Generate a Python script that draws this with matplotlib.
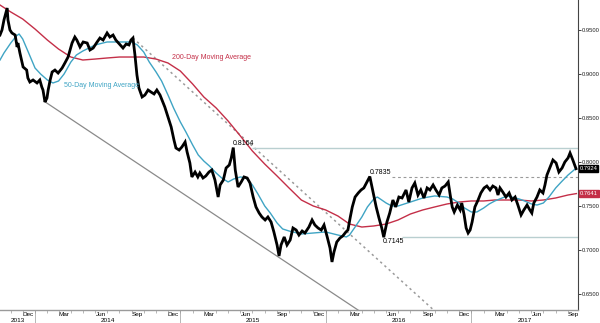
import pandas as pd
import matplotlib
matplotlib.use('Agg')
import matplotlib.pyplot as plt
import matplotlib.dates as mdates
import matplotlib.transforms as mtransforms

plt.rcParams['font.family'] = ['Liberation Sans', 'DejaVu Sans']

# AUD/USD daily closes
price_dates = [
    '2013-10-05', '2013-10-10', '2013-10-15', '2013-10-23', '2013-10-25', '2013-10-30',
    '2013-11-04', '2013-11-12', '2013-11-17', '2013-11-19', '2013-11-24', '2013-11-29',
    '2013-12-02', '2013-12-11', '2013-12-14', '2013-12-19', '2013-12-27', '2014-01-06',
    '2014-01-13', '2014-01-18', '2014-01-21', '2014-01-26', '2014-01-31', '2014-02-03',
    '2014-02-08', '2014-02-13', '2014-02-20', '2014-02-28', '2014-03-10', '2014-03-17',
    '2014-03-25', '2014-03-30', '2014-04-04', '2014-04-11', '2014-04-16', '2014-04-24',
    '2014-05-02', '2014-05-12', '2014-05-19', '2014-05-27', '2014-06-06', '2014-06-13',
    '2014-06-21', '2014-07-01', '2014-07-08', '2014-07-16', '2014-07-23', '2014-08-03',
    '2014-08-10', '2014-08-18', '2014-08-25', '2014-08-30', '2014-09-04', '2014-09-09',
    '2014-09-14', '2014-09-19', '2014-09-27', '2014-10-04', '2014-10-12', '2014-10-19',
    '2014-10-27', '2014-11-03', '2014-11-11', '2014-11-16', '2014-11-23', '2014-12-01',
    '2014-12-09', '2014-12-16', '2014-12-21', '2014-12-29', '2015-01-05', '2015-01-13',
    '2015-01-18', '2015-01-25', '2015-01-30', '2015-02-07', '2015-02-14', '2015-02-19',
    '2015-02-27', '2015-03-06', '2015-03-14', '2015-03-21', '2015-03-29', '2015-04-06',
    '2015-04-11', '2015-04-19', '2015-04-26', '2015-05-04', '2015-05-09', '2015-05-14',
    '2015-05-19', '2015-05-26', '2015-06-03', '2015-06-10', '2015-06-18', '2015-06-25',
    '2015-07-03', '2015-07-10', '2015-07-18', '2015-07-25', '2015-08-02', '2015-08-09',
    '2015-08-17', '2015-08-24', '2015-09-01', '2015-09-06', '2015-09-11', '2015-09-19',
    '2015-09-26', '2015-10-04', '2015-10-11', '2015-10-19', '2015-10-26', '2015-11-03',
    '2015-11-10', '2015-11-20', '2015-11-28', '2015-12-05', '2015-12-13', '2015-12-21',
    '2015-12-28', '2016-01-05', '2016-01-12', '2016-01-17', '2016-01-22', '2016-01-29',
    '2016-02-06', '2016-02-13', '2016-02-21', '2016-02-26', '2016-03-03', '2016-03-08',
    '2016-03-15', '2016-03-23', '2016-03-30', '2016-04-06', '2016-04-14', '2016-04-21',
    '2016-04-29', '2016-05-07', '2016-05-14', '2016-05-21', '2016-05-26', '2016-06-03',
    '2016-06-10', '2016-06-18', '2016-06-25', '2016-07-03', '2016-07-11', '2016-07-21',
    '2016-07-28', '2016-08-05', '2016-08-12', '2016-08-20', '2016-08-27', '2016-09-04',
    '2016-09-12', '2016-09-19', '2016-09-27', '2016-10-04', '2016-10-12', '2016-10-19',
    '2016-10-27', '2016-11-04', '2016-11-09', '2016-11-14', '2016-11-19', '2016-11-27',
    '2016-12-04', '2016-12-08', '2016-12-14', '2016-12-19', '2016-12-24', '2016-12-29',
    '2017-01-03', '2017-01-10', '2017-01-18', '2017-01-25', '2017-02-02', '2017-02-09',
    '2017-02-17', '2017-02-24', '2017-03-04', '2017-03-09', '2017-03-14', '2017-03-21',
    '2017-03-29', '2017-04-06', '2017-04-13', '2017-04-21', '2017-04-28', '2017-05-06',
    '2017-05-13', '2017-05-21', '2017-05-28', '2017-06-02', '2017-06-07', '2017-06-15',
    '2017-06-22', '2017-06-30', '2017-07-05', '2017-07-10', '2017-07-18', '2017-07-25',
    '2017-08-02', '2017-08-09', '2017-08-17', '2017-08-24', '2017-09-01', '2017-09-06',
    '2017-09-13', '2017-09-21',
]
price_vals = [
    0.9443, 0.9500, 0.9614, 0.9750, 0.9614, 0.9500,
    0.9466, 0.9443, 0.9307, 0.9352, 0.9239, 0.9136,
    0.9080, 0.9045, 0.8955, 0.8909, 0.8932, 0.8898,
    0.8932, 0.8852, 0.8818, 0.8682, 0.8727, 0.8818,
    0.8932, 0.9023, 0.9045, 0.9011, 0.9068, 0.9125,
    0.9193, 0.9273, 0.9352, 0.9420, 0.9386, 0.9307,
    0.9364, 0.9352, 0.9273, 0.9295, 0.9364, 0.9409,
    0.9386, 0.9466, 0.9420, 0.9443, 0.9386, 0.9330,
    0.9295, 0.9341, 0.9330, 0.9386, 0.9409, 0.9216,
    0.8989, 0.8841, 0.8739, 0.8761, 0.8818, 0.8796,
    0.8773, 0.8818, 0.8761, 0.8705, 0.8625, 0.8511,
    0.8398, 0.8250, 0.8159, 0.8136, 0.8171, 0.8227,
    0.8114, 0.7989, 0.7830, 0.7886, 0.7830, 0.7875,
    0.7818, 0.7841, 0.7886, 0.7909, 0.7795, 0.7602,
    0.7739, 0.7795, 0.7932, 0.7966, 0.8046, 0.8164,
    0.7909, 0.7716, 0.7773, 0.7830, 0.7818, 0.7761,
    0.7602, 0.7489, 0.7420, 0.7375, 0.7341, 0.7375,
    0.7318, 0.7205, 0.7057, 0.6932, 0.7057, 0.7148,
    0.7057, 0.7114, 0.7250, 0.7227, 0.7170, 0.7216,
    0.7193, 0.7261, 0.7341, 0.7284, 0.7250, 0.7227,
    0.7284, 0.7148, 0.7023, 0.6864, 0.6977, 0.7091,
    0.7136, 0.7159, 0.7205, 0.7227, 0.7375, 0.7489,
    0.7602, 0.7648, 0.7682, 0.7705, 0.7773, 0.7835,
    0.7659, 0.7489, 0.7364, 0.7250, 0.7145, 0.7318,
    0.7420, 0.7568, 0.7489, 0.7602, 0.7591, 0.7682,
    0.7545, 0.7705, 0.7761, 0.7625, 0.7682, 0.7591,
    0.7705, 0.7682, 0.7739, 0.7682, 0.7625, 0.7705,
    0.7727, 0.7773, 0.7625, 0.7489, 0.7432, 0.7511,
    0.7455, 0.7534, 0.7398, 0.7250, 0.7193, 0.7227,
    0.7318, 0.7489, 0.7568, 0.7648, 0.7705, 0.7727,
    0.7682, 0.7727, 0.7705, 0.7625, 0.7705, 0.7659,
    0.7602, 0.7648, 0.7568, 0.7602, 0.7511, 0.7398,
    0.7455, 0.7511, 0.7455, 0.7420, 0.7534, 0.7602,
    0.7682, 0.7648, 0.7739, 0.7852, 0.7943, 0.8023,
    0.7989, 0.7886, 0.7932, 0.8000, 0.8046, 0.8102,
    0.8023, 0.7924,
]

# 50-day moving average
ma50_dates = [
    '2013-10-05', '2013-10-15', '2013-11-01', '2013-11-15', '2013-11-22', '2013-12-01',
    '2013-12-15', '2014-01-01', '2014-01-15', '2014-02-01', '2014-02-15', '2014-03-01',
    '2014-03-15', '2014-04-01', '2014-04-15', '2014-05-01', '2014-06-01', '2014-07-01',
    '2014-08-01', '2014-09-01', '2014-09-15', '2014-10-01', '2014-10-15', '2014-11-01',
    '2014-11-15', '2014-12-01', '2014-12-15', '2015-01-01', '2015-01-15', '2015-02-01',
    '2015-02-15', '2015-03-01', '2015-03-15', '2015-04-01', '2015-04-15', '2015-05-01',
    '2015-05-15', '2015-06-01', '2015-06-15', '2015-07-01', '2015-07-15', '2015-08-01',
    '2015-08-15', '2015-09-01', '2015-09-15', '2015-10-01', '2015-11-01', '2015-12-01',
    '2016-01-01', '2016-02-01', '2016-02-22', '2016-03-01', '2016-03-15', '2016-04-01',
    '2016-04-15', '2016-05-01', '2016-05-10', '2016-06-01', '2016-06-15', '2016-07-01',
    '2016-08-01', '2016-09-01', '2016-10-01', '2016-11-01', '2016-11-15', '2016-12-01',
    '2016-12-15', '2017-01-01', '2017-01-15', '2017-02-01', '2017-02-15', '2017-03-01',
    '2017-04-01', '2017-05-01', '2017-05-15', '2017-06-01', '2017-06-15', '2017-07-01',
    '2017-07-15', '2017-08-01', '2017-08-15', '2017-09-01', '2017-09-22',
]
ma50_vals = [
    0.9159, 0.9239, 0.9352, 0.9432, 0.9455, 0.9398,
    0.9250, 0.9068, 0.9000, 0.8932, 0.8898, 0.8920,
    0.9000, 0.9136, 0.9216, 0.9261, 0.9330, 0.9364,
    0.9364, 0.9364, 0.9330, 0.9250, 0.9136, 0.9023,
    0.8920, 0.8761, 0.8614, 0.8455, 0.8341, 0.8193,
    0.8080, 0.8011, 0.7955, 0.7875, 0.7818, 0.7773,
    0.7807, 0.7830, 0.7818, 0.7739, 0.7636, 0.7500,
    0.7420, 0.7307, 0.7239, 0.7216, 0.7182, 0.7193,
    0.7205, 0.7170, 0.7148, 0.7170, 0.7261, 0.7375,
    0.7489, 0.7580, 0.7602, 0.7534, 0.7500, 0.7500,
    0.7545, 0.7591, 0.7614, 0.7602, 0.7580, 0.7534,
    0.7477, 0.7432, 0.7432, 0.7477, 0.7523, 0.7557,
    0.7614, 0.7580, 0.7557, 0.7523, 0.7511, 0.7534,
    0.7602, 0.7705, 0.7773, 0.7852, 0.7932,
]

# 200-day moving average
ma200_dates = [
    '2013-10-05', '2013-11-01', '2013-12-01', '2014-01-01', '2014-02-01', '2014-03-01',
    '2014-04-01', '2014-05-01', '2014-06-01', '2014-07-01', '2014-08-01', '2014-09-01',
    '2014-10-01', '2014-11-01', '2014-12-01', '2015-01-01', '2015-02-01', '2015-03-01',
    '2015-04-01', '2015-05-01', '2015-06-01', '2015-07-01', '2015-08-01', '2015-09-01',
    '2015-10-01', '2015-11-01', '2015-12-01', '2016-01-01', '2016-02-01', '2016-03-01',
    '2016-04-01', '2016-05-01', '2016-06-01', '2016-07-01', '2016-08-01', '2016-09-01',
    '2016-10-01', '2016-11-01', '2016-12-01', '2017-01-01', '2017-02-01', '2017-03-01',
    '2017-04-01', '2017-05-01', '2017-06-01', '2017-07-01', '2017-08-01', '2017-09-01',
    '2017-09-22',
]
ma200_vals = [
    0.9784, 0.9705, 0.9625, 0.9511, 0.9386, 0.9284,
    0.9193, 0.9159, 0.9170, 0.9182, 0.9193, 0.9193,
    0.9193, 0.9170, 0.9125, 0.9034, 0.8886, 0.8739,
    0.8614, 0.8466, 0.8295, 0.8125, 0.7977, 0.7841,
    0.7705, 0.7568, 0.7500, 0.7455, 0.7386, 0.7295,
    0.7261, 0.7273, 0.7295, 0.7341, 0.7409, 0.7455,
    0.7489, 0.7523, 0.7545, 0.7557, 0.7557, 0.7568,
    0.7568, 0.7568, 0.7557, 0.7568, 0.7591, 0.7625,
    0.7641,
]

# trend lines and levels
support_dates = ['2014-01-24', '2016-03-25']
support_vals = [0.8690, 0.6310]
resist_dates = ['2014-09-04', '2016-10-01']
resist_vals = [0.9409, 0.6307]
level_high, level_high_start = 0.8164, '2015-06-29'
level_mid, level_mid_start = 0.7835, '2016-06-16'
level_low, level_low_start = 0.7145, '2016-07-11'
last_price = 0.7924
last_ma200 = 0.7641

x_start, x_end = pd.Timestamp('2013-10-05'), pd.Timestamp('2017-09-26')
y_min, y_max = 0.6318, 0.9841

TEAL = '#3fa4c4'
RED = '#c42f48'
LEVEL = '#b9cfd0'

fig = plt.figure(figsize=(6, 3.23), dpi=100)
ax = fig.add_axes([0, 13 / 323, 578 / 600, 310 / 323])

ax.plot(pd.to_datetime(support_dates), support_vals, color='#8a8a8a', lw=0.9)
ax.plot(pd.to_datetime(resist_dates), resist_vals, color='#9a9a9a', lw=1.1,
        linestyle=(0, (1.5, 2.2)))
ax.hlines(level_high, pd.Timestamp(level_high_start), x_end, color=LEVEL, lw=1.0)
ax.hlines(level_mid, pd.Timestamp(level_mid_start), x_end, color='#9a9a9a', lw=0.8,
          linestyle=(0, (2.5, 2.5)))
ax.hlines(level_low, pd.Timestamp(level_low_start), x_end, color=LEVEL, lw=1.0)

ax.plot(pd.to_datetime(ma200_dates), ma200_vals, color=RED, lw=1.0)
ax.plot(pd.to_datetime(ma50_dates), ma50_vals, color=TEAL, lw=1.0)
ax.plot(pd.to_datetime(price_dates), price_vals, color='black', lw=2.0,
        solid_joinstyle='miter')

fs = 5
ax.text(pd.Timestamp('2014-12-11'), 0.9182, '200-Day Moving Average', color=RED,
        fontsize=fs, va='center', ha='left')
ax.text(pd.Timestamp('2014-03-14'), 0.8864, '50-Day Moving Average', color=TEAL,
        fontsize=fs, va='center', ha='left')
ax.text(pd.Timestamp('2015-05-13'), level_high + 0.0008, '0.8164', fontsize=fs,
        va='bottom', ha='left')
ax.text(pd.Timestamp('2016-04-21'), level_mid + 0.0008, '0.7835', fontsize=fs,
        va='bottom', ha='left')
ax.text(pd.Timestamp('2016-05-24'), level_low - 0.0012, '0.7145', fontsize=fs,
        va='top', ha='left')

ax.set_xlim(x_start, x_end)
ax.set_ylim(y_min, y_max)

for side in ['top', 'left']:
    ax.spines[side].set_visible(False)
ax.spines['right'].set_color('#444444')
ax.spines['right'].set_linewidth(0.8)
ax.spines['bottom'].set_color('#9a9a9a')
ax.spines['bottom'].set_linewidth(1.0)

ax.yaxis.tick_right()
ax.set_yticks([0.65, 0.70, 0.75, 0.80, 0.85, 0.90, 0.95])
ax.yaxis.set_major_formatter(plt.FormatStrFormatter('%.4f'))
ax.tick_params(axis='y', length=2, width=0.6, pad=0.8, labelsize=4.2, colors='#222222')

# month ticks at month starts, labels centred mid-month
ax.xaxis.set_minor_locator(mdates.MonthLocator())
ax.xaxis.set_major_locator(mdates.MonthLocator(bymonth=[3, 6, 9, 12], bymonthday=15))
ax.xaxis.set_major_formatter(mdates.DateFormatter('%b'))
ax.tick_params(axis='x', which='major', length=0, pad=1.5, labelsize=4.6)
ax.tick_params(axis='x', which='minor', length=2, width=0.5, color='#9a9a9a')

trans = mtransforms.blended_transform_factory(ax.transData, ax.transAxes)
for yr in [2014, 2015, 2016, 2017]:
    d = pd.Timestamp(f'{yr}-01-01')
    ax.plot([d, d], [0, -13 / 310], transform=trans, color='#9a9a9a', lw=0.5,
            clip_on=False)
years = [(2013, '2013-10-05', '2014-01-01'), (2014, '2014-01-01', '2015-01-01'),
         (2015, '2015-01-01', '2016-01-01'), (2016, '2016-01-01', '2017-01-01'),
         (2017, '2017-01-01', '2017-09-26')]
for yr, a, b in years:
    mid = pd.Timestamp(a) + (pd.Timestamp(b) - pd.Timestamp(a)) / 2
    ax.text(mid, -10 / 310, str(yr), transform=trans, fontsize=4.6, ha='center',
            va='center')

ytrans = mtransforms.blended_transform_factory(ax.transAxes, ax.transData)
ax.text(1.003, last_price, f'{last_price:.4f}', transform=ytrans, fontsize=4.2,
        color='white', va='center', ha='left',
        bbox=dict(boxstyle='square,pad=0.15', fc='black', ec='black'))
ax.text(1.003, last_ma200, f'{last_ma200:.4f}', transform=ytrans, fontsize=4.2,
        color='white', va='center', ha='left',
        bbox=dict(boxstyle='square,pad=0.15', fc=RED, ec=RED))

fig.savefig('out.png', dpi=100)
